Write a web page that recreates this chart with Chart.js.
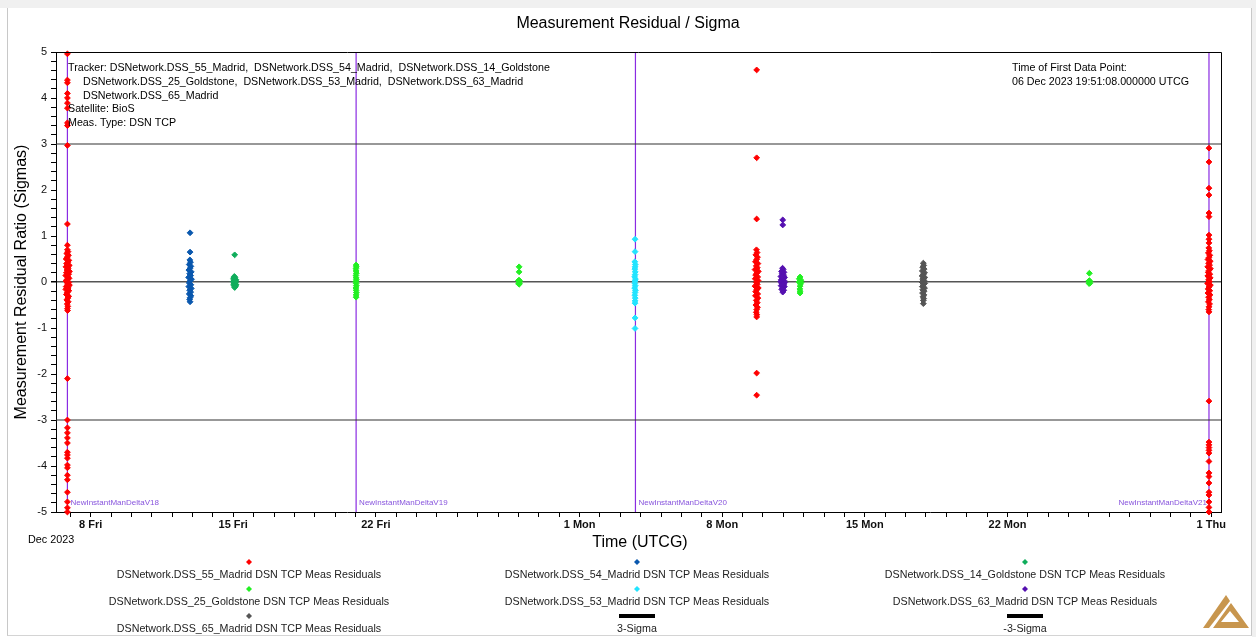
<!DOCTYPE html>
<html>
<head>
<meta charset="utf-8">
<title>Measurement Residual / Sigma</title>
<script src="https://cdn.jsdelivr.net/npm/chart.js@4.4.1/dist/chart.umd.min.js"></script>
<style>
  html, body { margin: 0; padding: 0; background: #ffffff; }
  body { width: 1256px; height: 637px; position: relative; overflow: hidden; font-family: 'Liberation Sans', Arial, sans-serif; }
  #topStrip { position: absolute; left: 0; top: 0; width: 1256px; height: 8px; background: #f0f0f0; }
  #frame { position: absolute; left: 7px; top: 8px; width: 1243px; height: 627px; border-left: 1px solid #c8c8c8; border-right: 1px solid #c8c8c8; border-bottom: 1px solid #d4d4d4; }
  #rightStrip { position: absolute; left: 1252px; top: 0; width: 4px; height: 637px; background: #f0f0f0; }
  #chart { position: absolute; left: 0; top: 0; }
</style>
</head>
<body>
<div id="topStrip"></div>
<div id="frame"></div>
<div id="rightStrip"></div>
<canvas id="chart" width="1256" height="637"></canvas>
<script>
// time axis is in days since 01 Dec 2023 00:00 UTCG
const xMin = 5.30;
const xMax = 62.48;
const labeledDays = [7, 14, 21, 31, 38, 45, 52, 62];
const labeledDayText = ['8 Fri', '15 Fri', '22 Fri', '1 Mon', '8 Mon', '15 Mon', '22 Mon', '1 Thu'];
const yLabels = [-5, -4, -3, -2, -1, 0, 1, 2, 3, 4, 5];

const stationNames = [
  'DSNetwork.DSS_55_Madrid DSN TCP Meas Residuals',
  'DSNetwork.DSS_54_Madrid DSN TCP Meas Residuals',
  'DSNetwork.DSS_14_Goldstone DSN TCP Meas Residuals',
  'DSNetwork.DSS_25_Goldstone DSN TCP Meas Residuals',
  'DSNetwork.DSS_53_Madrid DSN TCP Meas Residuals',
  'DSNetwork.DSS_63_Madrid DSN TCP Meas Residuals',
  'DSNetwork.DSS_65_Madrid DSN TCP Meas Residuals'
];
const stationColors = ['#ff0000', '#0a58ae', '#10ad5c', '#22f022', '#22e4ff', '#5510b0', '#555555'];

const sigmaNames = ['3-Sigma', '-3-Sigma'];
const sigmaLimits = [3, -3];

const maneuverDays = [5.86, 20.03, 33.74, 61.89];
const maneuverNames = ['NewInstantManDeltaV18', 'NewInstantManDeltaV19', 'NewInstantManDeltaV20', 'NewInstantManDeltaV21'];

// [day, residual / sigma]
const dss55 = [
  [5.86,0.70],[5.89,0.66],[5.83,0.62],[5.91,0.58],[5.85,0.54],[5.80,0.50],[5.93,0.47],[5.88,0.43],[5.82,0.40],[5.95,0.36],
  [5.79,0.33],[5.90,0.30],[5.84,0.26],[5.96,0.23],[5.81,0.20],[5.92,0.17],[5.78,0.14],[5.88,0.11],[5.94,0.08],[5.83,0.05],
  [5.79,0.02],[5.93,-0.01],[5.86,-0.04],[5.96,-0.07],[5.80,-0.10],[5.90,-0.13],[5.78,-0.16],[5.93,-0.19],[5.85,-0.23],[5.81,-0.27],
  [5.92,-0.31],[5.88,-0.35],[5.83,-0.39],[5.90,-0.43],[5.85,-0.48],[5.88,-0.53],[5.86,-0.58],[5.87,-0.62],
  [5.86,0.80],[5.86,1.26],[5.86,2.97],[5.86,3.40],[5.86,3.46],[5.86,3.78],[5.86,3.89],[5.86,4.00],[5.86,4.10],[5.86,4.33],
  [5.86,4.39],[5.86,4.96],[5.86,-2.10],[5.86,-3.00],[5.86,-3.17],[5.86,-3.28],[5.86,-3.39],[5.86,-3.50],[5.86,-3.70],[5.86,-3.76],
  [5.86,-3.83],[5.86,-3.98],[5.86,-4.04],[5.86,-4.20],[5.86,-4.30],[5.86,-4.57],[5.86,-4.78],[5.86,-4.91],[5.86,-5.00],
  [39.68,0.70],[39.71,0.64],[39.65,0.59],[39.73,0.54],[39.69,0.49],[39.63,0.44],[39.75,0.40],[39.67,0.35],[39.72,0.31],[39.61,0.27],
  [39.77,0.23],[39.69,0.19],[39.64,0.15],[39.74,0.11],[39.62,0.07],[39.76,0.03],[39.67,-0.01],[39.72,-0.05],[39.61,-0.09],[39.77,-0.13],
  [39.69,-0.17],[39.64,-0.21],[39.74,-0.26],[39.63,-0.30],[39.75,-0.35],[39.67,-0.40],[39.72,-0.45],[39.65,-0.50],[39.73,-0.55],[39.69,-0.60],
  [39.67,-0.66],[39.70,-0.71],[39.69,-0.76],
  [39.69,4.61],[39.69,2.70],[39.69,1.37],[39.69,-1.98],[39.69,-2.46],
  [61.88,0.74],[61.91,0.68],[61.86,0.63],[61.93,0.58],[61.89,0.53],[61.84,0.49],[61.95,0.45],[61.87,0.41],[61.92,0.37],[61.83,0.33],
  [61.96,0.29],[61.89,0.25],[61.85,0.21],[61.93,0.17],[61.83,0.13],[61.95,0.09],[61.87,0.05],[61.91,0.01],[61.82,-0.03],[61.96,-0.07],
  [61.89,-0.11],[61.85,-0.15],[61.93,-0.19],[61.84,-0.24],[61.94,-0.28],[61.87,-0.33],[61.91,-0.38],[61.86,-0.43],[61.92,-0.48],[61.89,-0.54],
  [61.88,-0.60],[61.89,-0.65],
  [61.89,2.91],[61.89,2.61],[61.89,2.04],[61.89,1.89],[61.89,1.50],[61.89,1.42],[61.89,1.02],[61.89,0.93],[61.89,0.85],[61.89,-2.59],
  [61.89,-3.48],[61.89,-3.54],[61.89,-3.60],[61.89,-3.66],[61.89,-3.72],[61.89,-3.90],[61.89,-4.15],[61.89,-4.23],[61.89,-4.37],[61.89,-4.57],
  [61.89,-4.63],[61.89,-4.78],[61.89,-4.90],[61.89,-5.00]
];
const dss54 = [
  [11.88,1.07],[11.88,0.65],[11.87,0.48],[11.90,0.43],[11.84,0.38],[11.92,0.34],[11.88,0.30],[11.82,0.26],[11.94,0.22],[11.86,0.18],
  [11.91,0.14],[11.81,0.10],[11.95,0.06],[11.88,0.02],[11.84,-0.02],[11.92,-0.06],[11.82,-0.10],[11.94,-0.14],[11.86,-0.18],[11.91,-0.22],
  [11.84,-0.26],[11.92,-0.30],[11.88,-0.34],[11.86,-0.38],[11.88,-0.43]
];
const dss14 = [
  [14.07,0.59],[14.05,0.12],[14.09,0.10],[14.01,0.07],[14.13,0.05],[14.06,0.03],[14.00,0.01],[14.11,-0.01],[14.07,-0.03],[14.02,-0.05],
  [14.14,-0.06],[14.04,-0.08],[14.10,-0.10],[14.07,-0.12],[14.03,0.09],[14.12,0.02]
];
const dss25 = [
  [20.03,0.37],[20.04,0.33],[20.02,0.29],[20.03,0.24],[20.04,0.19],[20.02,0.14],[20.03,0.09],[20.04,0.05],[20.02,0.01],[20.03,-0.03],
  [20.04,-0.08],[20.02,-0.13],[20.03,-0.18],[20.04,-0.23],[20.03,-0.28],[20.03,-0.33],
  [28.03,0.33],[28.03,0.22],[28.00,0.03],[28.06,0.02],[28.03,0.04],[28.01,-0.03],[28.05,-0.03],[28.03,-0.05],
  [41.82,0.11],[41.78,0.07],[41.86,0.04],[41.80,0.01],[41.87,-0.01],[41.77,0.00],[41.84,-0.04],[41.82,-0.09],[41.81,-0.15],[41.82,-0.20],
  [41.82,-0.24],
  [56.02,0.19],[55.99,0.02],[56.05,0.01],[56.02,0.03],[56.00,-0.03],[56.04,-0.03]
];
const dss53 = [
  [33.72,0.93],[33.72,0.66],[33.71,0.44],[33.73,0.38],[33.72,0.33],[33.71,0.28],[33.73,0.22],[33.72,0.16],[33.70,0.11],[33.74,0.06],
  [33.72,0.02],[33.71,-0.03],[33.73,-0.08],[33.70,-0.13],[33.74,-0.18],[33.72,-0.23],[33.71,-0.29],[33.73,-0.35],[33.72,-0.41],[33.72,-0.46],
  [33.72,-0.78],[33.72,-1.01]
];
const dss63 = [
  [40.97,1.35],[40.97,1.24],[40.96,0.30],[40.99,0.27],[40.91,0.23],[41.03,0.21],[40.94,0.18],[41.01,0.15],[40.88,0.12],[41.06,0.10],
  [40.97,0.08],[40.90,0.05],[41.03,0.03],[40.87,0.01],[41.07,-0.01],[40.93,-0.03],[41.01,-0.06],[40.89,-0.08],[41.05,-0.10],[40.97,-0.13],
  [40.92,-0.16],[41.02,-0.18],[40.97,-0.22],[40.95,0.12],[40.99,-0.05]
];
const dss65 = [
  [47.87,0.41],[47.89,0.36],[47.84,0.32],[47.91,0.28],[47.82,0.24],[47.93,0.20],[47.87,0.17],[47.81,0.13],[47.94,0.10],[47.84,0.06],
  [47.91,0.03],[47.80,0.00],[47.94,-0.03],[47.87,-0.06],[47.82,-0.10],[47.93,-0.13],[47.84,-0.17],[47.91,-0.20],[47.83,-0.24],[47.90,-0.28],
  [47.85,-0.32],[47.89,-0.36],[47.87,-0.40],[47.87,-0.47]
];
const stationData = [dss55, dss54, dss14, dss25, dss53, dss63, dss65];

const trackerLines = [
  'Tracker: DSNetwork.DSS_55_Madrid,  DSNetwork.DSS_54_Madrid,  DSNetwork.DSS_14_Goldstone',
  'DSNetwork.DSS_25_Goldstone,  DSNetwork.DSS_53_Madrid,  DSNetwork.DSS_63_Madrid',
  'DSNetwork.DSS_65_Madrid',
  'Satellite: BioS',
  'Meas. Type: DSN TCP'
];
const firstPointLines = ['Time of First Data Point:', '06 Dec 2023 19:51:08.000000 UTCG'];

const FONT = "'Liberation Sans', Arial, sans-serif";
Chart.defaults.font.family = FONT;
Chart.defaults.color = '#000';

const datasets = [];
stationData.forEach((pts, i) => {
  datasets.push({
    type: 'scatter',
    label: stationNames[i],
    data: pts.map(p => ({ x: p[0], y: p[1] })),
    backgroundColor: stationColors[i],
    borderColor: stationColors[i],
    borderWidth: 1,
    pointStyle: 'rectRot',
    pointRadius: 2.9,
    clip: false,
    order: 1
  });
});
sigmaLimits.forEach((v, i) => {
  datasets.push({
    type: 'line',
    label: sigmaNames[i],
    data: [{ x: xMin, y: v }, { x: xMax, y: v }],
    borderColor: '#333333',
    borderWidth: 1.2,
    pointRadius: 0,
    order: 5
  });
});
maneuverDays.forEach((d, i) => {
  datasets.push({
    type: 'line',
    label: maneuverNames[i],
    data: [{ x: d, y: -5 }, { x: d, y: 5 }],
    borderColor: '#8a2be2',
    borderWidth: 1.2,
    pointRadius: 0,
    order: 9
  });
});

function diamond(ctx, x, y, r, color) {
  ctx.fillStyle = color;
  ctx.beginPath();
  ctx.moveTo(x, y - r);
  ctx.lineTo(x + r, y);
  ctx.lineTo(x, y + r);
  ctx.lineTo(x - r, y);
  ctx.closePath();
  ctx.fill();
}

const overlay = {
  id: 'overlay',
  afterDraw(chart) {
    const { ctx, chartArea: a, scales } = chart;
    const x = scales.x;
    ctx.save();

    // plot frame (top & right)
    ctx.strokeStyle = '#000';
    ctx.lineWidth = 1;
    ctx.beginPath();
    ctx.moveTo(a.left, a.top + 0.5);
    ctx.lineTo(a.right + 0.5, a.top + 0.5);
    ctx.lineTo(a.right + 0.5, a.bottom);
    ctx.stroke();

    // title
    ctx.fillStyle = '#000';
    ctx.textAlign = 'center';
    ctx.textBaseline = 'middle';
    ctx.font = '16px ' + FONT;
    ctx.fillText('Measurement Residual / Sigma', 628, 24);
    ctx.fillText('Time (UTCG)', 640, 543);

    // y axis title
    ctx.save();
    ctx.translate(22, 282);
    ctx.rotate(-Math.PI / 2);
    ctx.fillText('Measurement Residual Ratio (Sigmas)', 0, 0);
    ctx.restore();

    // date label under axis
    ctx.font = '10.8px ' + FONT;
    ctx.textAlign = 'left';
    ctx.fillText('Dec 2023', 28, 540);

    // tracker annotation
    ctx.font = '10.7px ' + FONT;
    const indent = [0, 15, 15, 0, 0];
    trackerLines.forEach((t, i) => ctx.fillText(t, 68 + indent[i], 68 + i * 13.8));
    firstPointLines.forEach((t, i) => ctx.fillText(t, 1012, 68 + i * 14));

    // maneuver labels
    ctx.font = '8px ' + FONT;
    ctx.fillStyle = '#8855dd';
    maneuverDays.forEach((d, i) => {
      const px = x.getPixelForValue(d);
      const last = i === maneuverDays.length - 1;
      ctx.textAlign = last ? 'right' : 'left';
      ctx.fillText(maneuverNames[i], last ? px - 2 : px + 3, 503);
    });

    // legend: 3 columns, marker above text
    const colX = [249, 637, 1025];
    const rowY = [562, 589, 616];
    const entries = stationNames.map((n, i) => ({ name: n, color: stationColors[i], line: false }))
      .concat(sigmaNames.map(n => ({ name: n, color: '#000', line: true })));
    ctx.font = '10.7px ' + FONT;
    ctx.textAlign = 'center';
    entries.forEach((e, i) => {
      const cx = colX[i % 3];
      const ry = rowY[Math.floor(i / 3)];
      if (e.line) {
        ctx.fillStyle = '#000';
        ctx.fillRect(cx - 18, ry - 2, 36, 4);
      } else {
        diamond(ctx, cx, ry, 3, e.color);
      }
      ctx.fillStyle = '#222';
      ctx.fillText(e.name, cx, ry + 13.5);
    });

    // logo
    ctx.fillStyle = '#c8964e';
    ctx.beginPath();
    ctx.moveTo(1226, 595);
    ctx.lineTo(1230, 601);
    ctx.lineTo(1209, 628);
    ctx.lineTo(1203, 628);
    ctx.closePath();
    ctx.fill();
    ctx.beginPath();
    ctx.moveTo(1231, 603);
    ctx.lineTo(1249, 628);
    ctx.lineTo(1213, 628);
    ctx.closePath();
    ctx.moveTo(1230, 611);
    ctx.lineTo(1221, 622);
    ctx.lineTo(1239, 622);
    ctx.closePath();
    ctx.fill('evenodd');

    ctx.restore();
  }
};

new Chart(document.getElementById('chart'), {
  data: { datasets },
  options: {
    responsive: false,
    animation: false,
    events: [],
    layout: { padding: { left: 0, top: 52, right: 35, bottom: 0 } },
    plugins: { legend: { display: false }, tooltip: { enabled: false }, title: { display: false } },
    scales: {
      x: {
        type: 'linear',
        min: xMin,
        max: xMax,
        afterFit: s => { s.height = 125; },
        afterBuildTicks: s => {
          const t = [];
          for (let d = 6; d <= 62; d++) t.push({ value: d });
          s.ticks = t;
        },
        border: { display: true, color: '#000', width: 1 },
        grid: { drawOnChartArea: false, drawTicks: true, tickLength: 5, tickColor: '#000' },
        ticks: {
          autoSkip: false,
          maxRotation: 0,
          padding: 1,
          font: { size: 11, weight: 'bold' },
          color: '#111',
          callback: v => {
            const k = labeledDays.indexOf(v);
            return k >= 0 ? labeledDayText[k] : '';
          }
        }
      },
      y: {
        type: 'linear',
        min: -5,
        max: 5,
        afterFit: s => { s.width = 56; },
        afterBuildTicks: s => {
          const t = [];
          for (let i = -25; i <= 25; i++) t.push({ value: i / 5 });
          s.ticks = t;
        },
        border: { display: true, color: '#000', width: 1 },
        grid: {
          drawOnChartArea: true,
          drawTicks: true,
          tickLength: 5,
          tickColor: '#000',
          color: c => (c.tick && Math.abs(c.tick.value) < 1e-9 ? '#555555' : 'rgba(0,0,0,0)'),
          lineWidth: c => (c.tick && Math.abs(c.tick.value) < 1e-9 ? 1.5 : 1)
        },
        ticks: {
          autoSkip: false,
          padding: 4,
          font: { size: 11 },
          color: '#111',
          callback: v => {
            const r = Math.round(v);
            return Math.abs(v - r) < 1e-6 && yLabels.includes(r) ? String(r) : '';
          }
        }
      }
    }
  },
  plugins: [overlay]
});
</script>
</body>
</html>
